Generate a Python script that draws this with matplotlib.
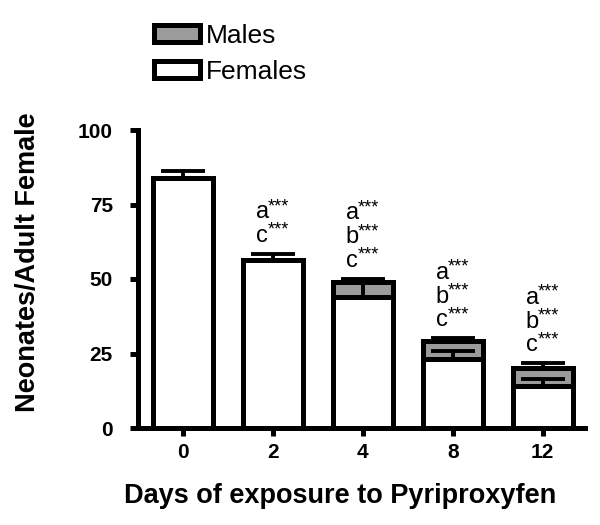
import matplotlib
matplotlib.use("Agg")
import matplotlib.pyplot as plt
import numpy as np

plt.rcParams["font.family"] = ["Liberation Sans", "DejaVu Sans"]

days = ["0", "2", "4", "8", "12"]
females = [83.9, 56.4, 44.1, 23.2, 14.2]
females_err = [2.3, 2.0, 4.8, 2.6, 2.2]
males = [0.0, 0.0, 5.0, 6.0, 6.0]
males_err = [0.0, 0.0, 0.9, 0.9, 1.5]
signif = [[], ["a", "c"], ["a", "b", "c"], ["a", "b", "c"], ["a", "b", "c"]]

LW = 3.6

fig = plt.figure(figsize=(6, 5.25), dpi=100)
ax = fig.add_axes([138 / 600, 1 - 428 / 525, 447 / 600, 298 / 525])

x = np.arange(len(days))
width = 0.667

bars_f = ax.bar(x, females, width, color="white", edgecolor="black",
                linewidth=LW, label="Females", zorder=2)
bars_m = ax.bar(x, males, width, bottom=females, color="#9b9b9b",
                edgecolor="black", linewidth=LW, label="Males", zorder=2)

# upward-only error bars
ax.errorbar(x, females, yerr=[np.zeros(len(x)), females_err], fmt="none",
            ecolor="black", elinewidth=2.8, capsize=16, capthick=2.8, zorder=3)
tot = np.array(females) + np.array(males)
has_m = np.array(males) > 0
ax.errorbar(x[has_m], tot[has_m],
            yerr=[np.zeros(has_m.sum()), np.array(males_err)[has_m]],
            fmt="none", ecolor="black", elinewidth=2.8, capsize=16,
            capthick=2.8, zorder=3)

# significance letters
step = 8.0
for i, letters in enumerate(signif):
    if not letters:
        continue
    top = tot[i] + max(females_err[i] if males[i] == 0 else males_err[i], 0)
    base = top + 6.0
    n = len(letters)
    for j, letter in enumerate(letters):
        yy = base + (n - 1 - j) * step
        ax.text(i - 0.19, yy, letter, fontsize=17, ha="left", va="center",
                zorder=4)
        ax.text(i - 0.06, yy + 1.9, "***", fontsize=13, ha="left",
                va="center", zorder=4)

ax.set_xlim(-0.5, 4.47)
ax.set_ylim(0, 100)
ax.set_xticks(x)
ax.set_xticklabels(days)
ax.set_yticks([0, 25, 50, 75, 100])
for s in ["top", "right"]:
    ax.spines[s].set_visible(False)
for s in ["left", "bottom"]:
    ax.spines[s].set_linewidth(LW)
ax.tick_params(width=LW, length=6, labelsize=15, pad=5)
ax.tick_params(axis="y", pad=12)
for lbl in ax.get_xticklabels() + ax.get_yticklabels():
    lbl.set_fontweight("bold")

fig.text(28 / 600, 1 - 262 / 525, "Neonates/Adult Female", rotation=90,
         fontsize=19.5, fontweight="bold", ha="center", va="center")
fig.text(340 / 600, 1 - 496 / 525, "Days of exposure to Pyriproxyfen",
         fontsize=19.5, fontweight="bold", ha="center", va="center")

fig.legend([bars_m, bars_f], ["Males", "Females"], loc="upper left",
           bbox_to_anchor=(154 / 600, 1 - 24 / 525), frameon=False,
           fontsize=19, handlelength=1.75, handleheight=0.6,
           handletextpad=0.2, labelspacing=0.45, borderpad=0,
           borderaxespad=0)

fig.savefig("out.png", dpi=100, facecolor="white")
